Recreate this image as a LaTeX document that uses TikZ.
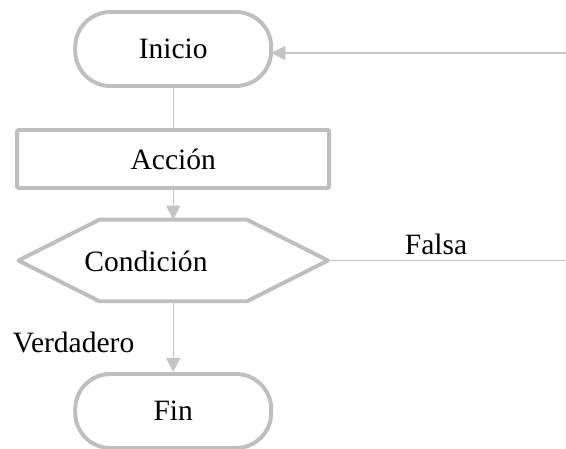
\documentclass[tikz,border=0pt]{standalone}
\usepackage{fontspec}
\setmainfont{Liberation Serif}
\usetikzlibrary{arrows.meta}
\definecolor{boxgray}{RGB}{191,191,191}
\definecolor{linegray}{RGB}{196,196,196}

\begin{document}
\begin{tikzpicture}[
  term/.style={draw=boxgray, line width=2.8pt, rounded corners=0.88cm, minimum width=4.9cm, minimum height=1.85cm},
  proc/.style={draw=boxgray, line width=2.8pt, rounded corners=1pt, minimum width=7.8cm, minimum height=1.45cm},
  flow/.style={draw=linegray, line width=1pt},
  flecha/.style={flow, -{Triangle[length=10pt,width=10pt]}},
  font=\fontsize{21}{25}\selectfont]
%\draw (0,0) grid (14,11);
\useasboundingbox (0,0) rectangle (14.15,11.2);

\node [term] (inicio) at (4.33,9.975) {Inicio};
\node [proc] (accion) at (4.33,7.225) {Acción};
\node [minimum width=7.725cm, minimum height=2.025cm, inner sep=0] (cond) at (4.33,4.6875) {};
\draw [boxgray, line width=2.8pt, line join=round] (cond.west) -- ([xshift=2.025cm]cond.north west) -- ([xshift=-2.025cm]cond.north east) -- (cond.east) -- ([xshift=-2.025cm]cond.south east) -- ([xshift=2.025cm]cond.south west) -- cycle;
\node [term] (fin) at (4.33,0.925) {Fin};

\node [anchor=base] (condtxt) at (3.65,4.4) {Condición};
\node [anchor=base] (falsa) at (10.9,4.825) {Falsa};
\node [anchor=base] (verdadero) at (1.84,2.4) {Verdadero};

\coordinate (ret) at (14.15,9.875);
\coordinate (falsafin) at (14.15,4.65);

\draw [flow] (inicio) -- (accion);
\draw [flecha] (accion) -- (cond.north);
\draw [flecha] (cond.south) -- (fin);
\draw [flecha, shorten >=-1.4pt] (ret) -- (inicio.east |- ret);
\draw [flow] (cond.east) -- (cond.east -| falsafin);
\end{tikzpicture}
\end{document}
